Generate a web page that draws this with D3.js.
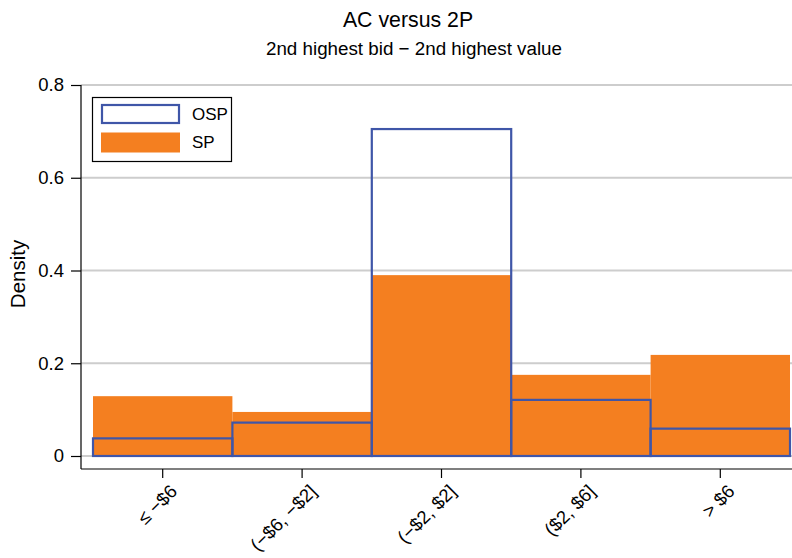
<!DOCTYPE html>
<html>
<head>
<meta charset="utf-8">
<script src="https://cdn.jsdelivr.net/npm/d3@7"></script>
<style>
  body { margin: 0; background: #fff; }
  svg { display: block; font-family: "Liberation Sans", Arial, sans-serif; }
</style>
</head>
<body>
<div id="chart"></div>
<script>
//////// DATA ////////
var categories = ["\u2264 \u2212$6", "(\u2212$6, \u2212$2]", "(\u2212$2, $2]", "($2, $6]", "> $6"];
var spDensity = [0.129, 0.095, 0.390, 0.175, 0.218];
var ospDensity = [0.038, 0.072, 0.705, 0.121, 0.059];
var yTicks = [0, 0.2, 0.4, 0.6, 0.8];
var seriesNames = ["OSP", "SP"];

var width = 792,
    height = 558;

var orange = "#f47f20",
    blue = "#3f56a8",
    grid = "#cdcdcd";

//////// SCALES ////////
var xScale = d3.scaleBand()
    .domain(categories)
    .range([93, 790])
    .padding(0);

var yScale = d3.scaleLinear()
    .domain([0, 0.8])
    .range([456, 85]);

var plot = {left: 81, right: 792, top: 85, bottom: 469};

//////// CANVAS ////////
var svg = d3.select("#chart").append("svg")
    .attr("width", width)
    .attr("height", height);

// titles
svg.append("text")
    .attr("x", 408)
    .attr("y", 27)
    .attr("text-anchor", "middle")
    .attr("font-size", 21.3)
    .text("AC versus 2P");

svg.append("text")
    .attr("x", 414)
    .attr("y", 55)
    .attr("text-anchor", "middle")
    .attr("font-size", 18.8)
    .text("2nd highest bid \u2212 2nd highest value");

// gridlines
svg.append("g")
    .selectAll("line")
    .data(yTicks)
    .enter().append("line")
        .attr("x1", plot.left)
        .attr("x2", plot.right)
        .attr("y1", function(d) { return yScale(d); })
        .attr("y2", function(d) { return yScale(d); })
        .attr("stroke", grid)
        .attr("stroke-width", 2);

// SP bars (filled)
svg.append("g")
    .selectAll("rect")
    .data(spDensity)
    .enter().append("rect")
        .attr("x", function(d, i) { return xScale(categories[i]); })
        .attr("y", function(d) { return yScale(d); })
        .attr("width", xScale.bandwidth())
        .attr("height", function(d) { return yScale(0) - yScale(d); })
        .attr("fill", orange);

// OSP bars (outline)
svg.append("g")
    .selectAll("rect")
    .data(ospDensity)
    .enter().append("rect")
        .attr("x", function(d, i) { return xScale(categories[i]); })
        .attr("y", function(d) { return yScale(d); })
        .attr("width", xScale.bandwidth())
        .attr("height", function(d) { return yScale(0) - yScale(d); })
        .attr("fill", "none")
        .attr("stroke", blue)
        .attr("stroke-width", 2.2);

// AXES
// y axis
var yAxis = svg.append("g")
    .attr("transform", "translate(" + plot.left + ",0)")
    .call(d3.axisLeft(yScale).tickValues(yTicks).tickSize(10).tickPadding(7)
        .tickFormat(function(d) { return d === 0 ? "0" : d3.format(".1f")(d); }));
yAxis.select(".domain").remove();
yAxis.selectAll(".tick line").attr("stroke", "#000").attr("stroke-width", 1.2);
yAxis.selectAll(".tick text")
    .attr("font-size", 18.5)
    .attr("font-family", "Liberation Sans, Arial, sans-serif")
    .attr("fill", "#000");

svg.append("line")
    .attr("x1", plot.left).attr("x2", plot.left)
    .attr("y1", plot.top).attr("y2", plot.bottom)
    .attr("stroke", "#000").attr("stroke-width", 1.2);

// x axis
var xAxis = svg.append("g")
    .attr("transform", "translate(0," + plot.bottom + ")")
    .call(d3.axisBottom(xScale).tickSize(9));
xAxis.select(".domain").remove();
xAxis.selectAll(".tick line").attr("stroke", "#000").attr("stroke-width", 1.2);
xAxis.selectAll(".tick text")
    .attr("font-size", 18.5)
    .attr("font-family", "Liberation Sans, Arial, sans-serif")
    .attr("fill", "#000")
    .attr("text-anchor", "end")
    .attr("transform", "translate(11,19) rotate(-45)")
    .attr("dy", "0.35em")
    .attr("y", 0);

svg.append("line")
    .attr("x1", plot.left).attr("x2", plot.right)
    .attr("y1", plot.bottom).attr("y2", plot.bottom)
    .attr("stroke", "#000").attr("stroke-width", 1.2);

// y label
svg.append("text")
    .attr("transform", "translate(25,274) rotate(-90)")
    .attr("text-anchor", "middle")
    .attr("font-size", 20.5)
    .text("Density");

// LEGEND
var legend = svg.append("g");
legend.append("rect")
    .attr("x", 92.5).attr("y", 97.5)
    .attr("width", 139).attr("height", 64)
    .attr("fill", "#fff")
    .attr("stroke", "#000")
    .attr("stroke-width", 1.2);

var legendItems = legend.selectAll("g")
    .data(seriesNames)
    .enter().append("g")
        .attr("transform", function(d, i) { return "translate(0," + (i * 28.5) + ")"; });

legendItems.append("rect")
    .attr("x", function(d) { return d === "OSP" ? 102 : 101; })
    .attr("y", function(d) { return d === "OSP" ? 105 : 104; })
    .attr("width", function(d) { return d === "OSP" ? 77 : 79; })
    .attr("height", function(d) { return d === "OSP" ? 18 : 20; })
    .attr("fill", function(d) { return d === "OSP" ? "#fff" : orange; })
    .attr("stroke", function(d) { return d === "OSP" ? blue : "none"; })
    .attr("stroke-width", 2.2);

legendItems.append("text")
    .attr("x", 192)
    .attr("y", 114)
    .attr("dy", "0.35em")
    .attr("font-size", 17)
    .text(function(d) { return d; });
</script>
</body>
</html>
